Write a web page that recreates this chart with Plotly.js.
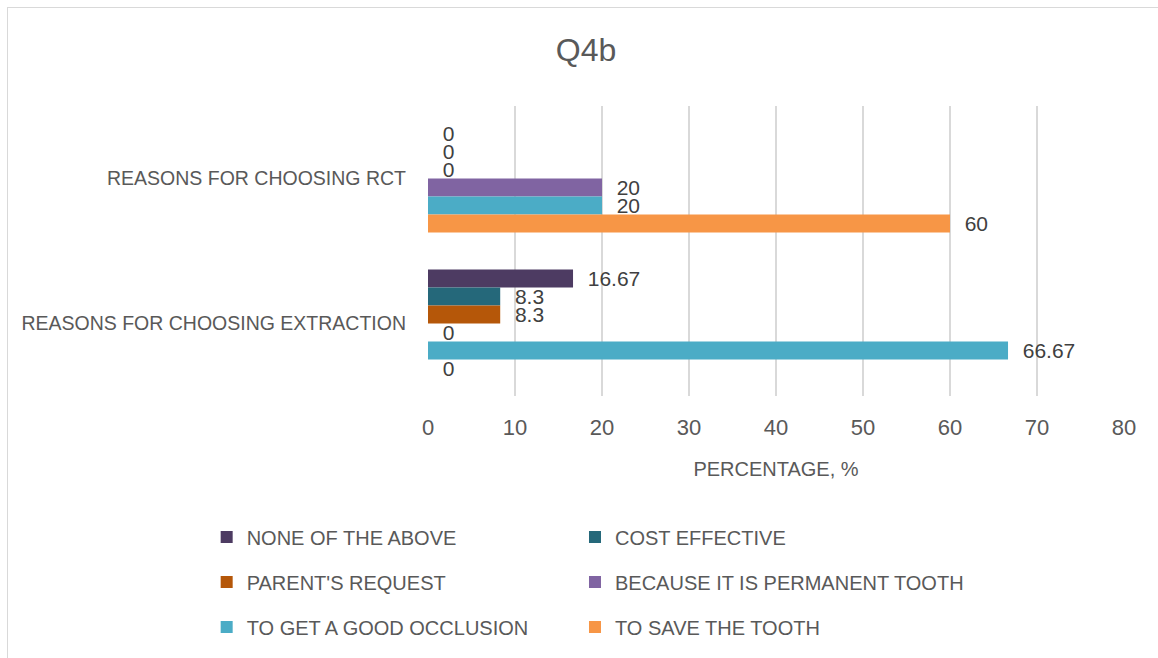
<!DOCTYPE html>
<html>
<head>
<meta charset="utf-8">
<script src="https://cdn.plot.ly/plotly-3.0.1.min.js"></script>
<style>
  html, body { margin: 0; padding: 0; background: #fff; overflow: hidden; }
  #chart { position: absolute; left: 0; top: 0; width: 1158px; height: 658px; }
  #frame { position: absolute; left: 7px; top: 7px; width: 1200px; height: 700px;
           border: 1.5px solid #d9d9d9; pointer-events: none; box-sizing: border-box; }
</style>
</head>
<body>
<div id="chart"></div>
<div id="frame"></div>
<script>
// Categories, top to bottom as drawn
const categories = ["REASONS FOR CHOOSING RCT", "REASONS FOR CHOOSING EXTRACTION"];

// Series names (legend order / top-to-bottom within each group)
const seriesNames = [
  "NONE OF THE ABOVE",
  "COST EFFECTIVE",
  "PARENT'S REQUEST",
  "BECAUSE IT IS PERMANENT TOOTH",
  "TO GET A GOOD OCCLUSION",
  "TO SAVE THE TOOTH"
];

// Values per series: [RCT, EXTRACTION]
const noneOfTheAbove   = [0, 16.67];
const costEffective    = [0, 8.3];
const parentsRequest   = [0, 8.3];
const permanentTooth   = [20, 0];
const goodOcclusion    = [20, 66.67];
const saveTheTooth     = [60, 0];

const seriesValues = [noneOfTheAbove, costEffective, parentsRequest, permanentTooth, goodOcclusion, saveTheTooth];
const seriesColors = ["#4d3b62", "#25687a", "#b55709", "#8064a2", "#4bacc6", "#f79646"];

const xTicks = [0, 10, 20, 30, 40, 50, 60, 70, 80];

const textColor = "#595959";
const fontFam = "'Liberation Sans', Arial, sans-serif";

const legendKeys = ["legend", "legend2", "legend3", "legend4", "legend5", "legend6"];

const traces = seriesNames.map((name, i) => ({
  type: "bar",
  orientation: "h",
  name: name,
  y: categories,
  x: seriesValues[i],
  text: seriesValues[i].map(v => String(v)),
  texttemplate: "\u00a0\u00a0%{text}",
  textposition: "outside",
  constraintext: "none",
  cliponaxis: false,
  textfont: { family: fontFam, size: 21, color: "#404040" },
  marker: { color: seriesColors[i] },
  legend: legendKeys[i],
  hoverinfo: "x+name"
}));

const layout = {
  width: 1158,
  height: 658,
  margin: { l: 428, r: 34, t: 106, b: 262 },
  paper_bgcolor: "#ffffff",
  plot_bgcolor: "#ffffff",
  barmode: "group",
  bargap: 0.255,
  bargroupgap: 0,
  title: {
    text: "Q4b",
    font: { family: fontFam, size: 32, color: textColor },
    x: 586 / 1158, xref: "container", xanchor: "center",
    y: 1 - 50 / 658, yref: "container", yanchor: "middle"
  },
  xaxis: {
    range: [0, 80],
    tickvals: xTicks,
    ticktext: xTicks.map(String),
    showgrid: true,
    gridcolor: "#d9d9d9",
    gridwidth: 1.5,
    zeroline: false,
    showline: false,
    ticks: "",
    ticklabelstandoff: 16,
    tickfont: { family: fontFam, size: 22, color: textColor },
    title: { text: "PERCENTAGE, %", font: { family: fontFam, size: 20, color: textColor }, standoff: 22 },
    fixedrange: true
  },
  yaxis: {
    type: "category",
    categoryorder: "array",
    categoryarray: categories,
    autorange: "reversed",
    showgrid: false,
    zeroline: false,
    showline: false,
    ticks: "",
    ticklabelstandoff: 21,
    tickfont: { family: fontFam, size: 19.5, color: textColor },
    fixedrange: true
  },
  showlegend: true
};

// Two-column legend grid: one legend box per entry
const colX = [-0.318, 0.2112];
const rowY = [(396 - 537) / 290, (396 - 582) / 290, (396 - 627) / 290];
legendKeys.forEach((key, i) => {
  layout[key] = {
    orientation: "h",
    xanchor: "left",
    yanchor: "middle",
    x: colX[i % 2],
    y: rowY[Math.floor(i / 2)],
    font: { family: fontFam, size: 20, color: textColor },
    bgcolor: "rgba(0,0,0,0)"
  };
});

Plotly.newPlot("chart", traces, layout, { displayModeBar: false, staticPlot: true });
</script>
</body>
</html>
